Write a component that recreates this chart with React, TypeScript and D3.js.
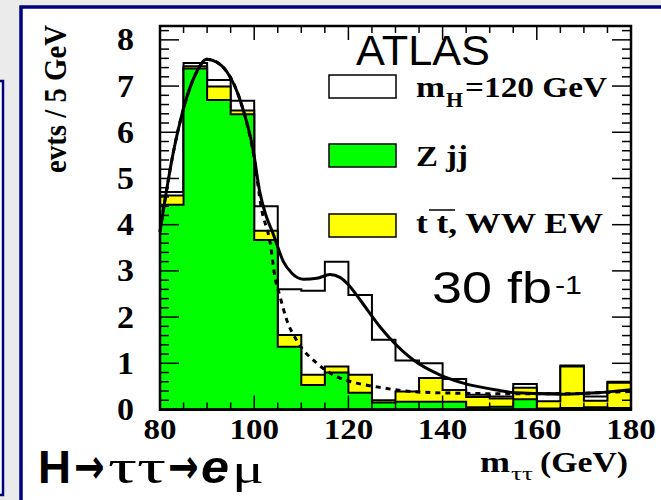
import React from 'react';
import * as d3 from 'd3';

// ==== data

const binLow = [80, 85, 90, 95, 100, 105, 110, 115, 120, 125, 130, 135, 140, 145, 150, 155, 160, 165, 170, 175];
const zjj = [4.43, 7.38, 6.70, 6.39, 3.67, 1.36, 0.53, 0.80, 0.36, 0.15, 0.17, 0.17, 0.17, 0.05, 0.06, 0.22, 0.02, 0.03, 0.05, 0.03];
const ttWW = [0.20, 0.05, 0.29, 0.08, 0.20, 0.25, 0.22, 0.13, 0.39, 0.05, 0.22, 0.51, 0.25, 0.22, 0.18, 0.25, 0.16, 0.90, 0.14, 0.55];
const higgs = [0.08, 0.07, 0.14, 0.21, 0.53, 0.99, 1.82, 2.27, 1.73, 1.31, 0.67, 0.32, 0.24, 0.05, 0.04, 0.08, 0.17, 0.02, 0.09, 0.02];

const fitMass = [80, 82.8, 84.9, 87.8, 89.9, 92, 94.2, 97, 99.8, 101.2, 102.5, 104, 106.2, 108, 110.5, 113.3, 116.1, 118.2, 120, 122.5, 126.7, 128.8, 133.8, 139.4, 144.4, 151.5, 155.7, 165.6, 172.7, 180];
const fitTotal = [3.85, 5.55, 6.48, 7.31, 7.58, 7.52, 7.31, 6.7, 5.6, 4.7, 4.2, 3.81, 3.2, 2.95, 2.82, 2.84, 2.92, 2.86, 2.7, 2.37, 1.79, 1.54, 1.07, 0.75, 0.57, 0.42, 0.36, 0.33, 0.36, 0.43];

const bkgMass = [80, 82.8, 84.9, 87.8, 89.9, 92, 94.2, 97, 99.8, 101.6, 103.4, 104.4, 105.5, 106.9, 109, 113.3, 117.5, 121.8, 126, 133.7, 144.3, 155, 165.6, 178.3, 180];
const bkgFit = [3.85, 5.55, 6.48, 7.31, 7.58, 7.52, 7.31, 6.7, 5.55, 4.32, 3.6, 2.87, 2.44, 1.94, 1.5, 1.0, 0.71, 0.57, 0.49, 0.385, 0.35, 0.34, 0.34, 0.385, 0.39];

const xTickLabels = [80, 100, 120, 140, 160, 180];
const yTickLabels = [0, 1, 2, 3, 4, 5, 6, 7, 8];

// ====

const NAVY = '#00007f';
const GREEN = '#00ff00';
const YELLOW = '#ffff00';
const SERIF = '"Liberation Serif", "DejaVu Serif", serif';
const SANS = '"Liberation Sans", Arial, sans-serif';
const ARROW_FONT = '"DejaVu Sans", sans-serif';

export default function App() {
    const left = 160, right = 631, top = 26, bottom = 409.5;
    const x = d3.scaleLinear().domain([80, 180]).range([left, right]);
    const y = d3.scaleLinear().domain([0, 8.3]).range([bottom, top]);

    const green = zjj;
    const yellowTop = zjj.map((v, i) => v + ttWW[i]);
    const total = yellowTop.map((v, i) => v + higgs[i]);

    // filled step outline of one stacked layer
    const step = (vals: number[]) => {
        const pts: [number, number][] = binLow.map((b, i) => [b, vals[i]]);
        pts.push([180, vals[vals.length - 1]]);
        return d3.area<[number, number]>()
            .curve(d3.curveStepAfter)
            .x(p => x(p[0]))
            .y0(y(0))
            .y1(p => y(p[1]))(pts) as string;
    };

    const fitPath = d3.line<number>()
        .curve(d3.curveMonotoneX)
        .x((d, i) => x(fitMass[i]))
        .y(d => y(d))(fitTotal) as string;
    const bkgPath = d3.line<number>()
        .curve(d3.curveMonotoneX)
        .x((d, i) => x(bkgMass[i]))
        .y(d => y(d))(bkgFit) as string;

    const xMinor = d3.range(0, 21).map(i => 80 + i * 5);
    const yMinor = d3.range(0, 42).map(i => i * 0.2);

    return (
        <svg width={661} height={500} style={{ position: 'absolute', left: 0, top: 0 }}>
            <rect x={0} y={0} width={661} height={500} fill="#ebebeb" />
            <rect x={-20} y={81} width={23} height={414} fill="white" stroke={NAVY} strokeWidth={2.5} />
            <rect x={21} y={7} width={700} height={600} fill="white" stroke={NAVY} strokeWidth={3.5} />

            {/* stacked histogram */}
            <path d={step(total)} fill="white" stroke="black" strokeWidth={2} />
            <path d={step(yellowTop)} fill={YELLOW} stroke="black" strokeWidth={2} />
            <path d={step(green)} fill={GREEN} stroke="black" strokeWidth={2} />

            {/* fits */}
            <path d={bkgPath} fill="none" stroke="black" strokeWidth={3} strokeDasharray="5,5" />
            <path d={fitPath} fill="none" stroke="black" strokeWidth={3} />

            {/* frame and ticks */}
            <rect x={left} y={top} width={right - left} height={bottom - top} fill="none" stroke="black" strokeWidth={2.5} />
            {xMinor.map(v => {
                const len = v % 20 === 0 ? 14 : 7;
                return (
                    <g key={'xt' + v}>
                        <line x1={x(v)} x2={x(v)} y1={bottom} y2={bottom - len} stroke="black" strokeWidth={1.5} />
                        <line x1={x(v)} x2={x(v)} y1={top} y2={top + len} stroke="black" strokeWidth={1.5} />
                    </g>
                );
            })}
            {yMinor.map((v, i) => {
                const len = i % 5 === 0 ? 19 : 9;
                return (
                    <g key={'yt' + i}>
                        <line x1={left} x2={left + len} y1={y(v)} y2={y(v)} stroke="black" strokeWidth={1.5} />
                        <line x1={right} x2={right - len} y1={y(v)} y2={y(v)} stroke="black" strokeWidth={1.5} />
                    </g>
                );
            })}

            {/* tick labels */}
            {xTickLabels.map(v => (
                <text key={'xl' + v} x={x(v)} y={439} textAnchor="middle" fontFamily={SERIF} fontWeight="bold"
                    fontSize={29} textLength={String(v).length * 16.5} lengthAdjust="spacingAndGlyphs">{v}</text>
            ))}
            {yTickLabels.map(v => (
                <text key={'yl' + v} x={134} y={y(v) + 10.5} textAnchor="end" fontFamily={SERIF} fontWeight="bold"
                    fontSize={31} textLength={17} lengthAdjust="spacingAndGlyphs">{v}</text>
            ))}

            {/* axis titles */}
            <text transform="translate(66,99) rotate(-90)" textAnchor="middle" fontFamily={SERIF} fontWeight="bold"
                fontSize={31} textLength={148} lengthAdjust="spacingAndGlyphs">evts / 5 GeV</text>
            <text fontFamily={SERIF} fontWeight="bold" fontSize={30}>
                <tspan x={480} y={472} textLength={30} lengthAdjust="spacingAndGlyphs">m</tspan>
                <tspan x={511} y={480} fontSize={19} fontWeight="normal" textLength={22} lengthAdjust="spacingAndGlyphs">ττ</tspan>
                <tspan x={540} y={472} textLength={88} lengthAdjust="spacingAndGlyphs">(GeV)</tspan>
            </text>

            {/* legend */}
            <rect x={329} y={75} width={67} height={23} fill="white" stroke="black" strokeWidth={1.5} />
            <rect x={329} y={144} width={67} height={23} fill={GREEN} stroke="black" strokeWidth={1.5} />
            <rect x={329} y={214} width={67} height={23} fill={YELLOW} stroke="black" strokeWidth={1.5} />
            <g fontFamily={SERIF} fontWeight="bold" fontSize={29}>
                <text>
                    <tspan x={416} y={97} textLength={29} lengthAdjust="spacingAndGlyphs">m</tspan>
                    <tspan x={446} y={107} fontSize={20} textLength={17} lengthAdjust="spacingAndGlyphs">H</tspan>
                    <tspan x={465} y={97} textLength={142} lengthAdjust="spacingAndGlyphs">=120 GeV</tspan>
                </text>
                <text x={416} y={166} textLength={52} lengthAdjust="spacingAndGlyphs">Z jj</text>
                <text x={416} y={233} textLength={187} lengthAdjust="spacingAndGlyphs">t t, WW EW</text>
                <line x1={429} x2={455} y1={210} y2={210} stroke="black" strokeWidth={1.5} />
            </g>

            <text x={356} y={65} fontFamily={SANS} fontSize={42} textLength={134} lengthAdjust="spacingAndGlyphs">ATLAS</text>
            <text fontFamily={SANS}>
                <tspan x={432} y={303} fontSize={44} textLength={120} lengthAdjust="spacingAndGlyphs">30 fb</tspan>
                <tspan x={555} y={294} fontSize={25} textLength={27} lengthAdjust="spacingAndGlyphs">-1</tspan>
            </text>

            {/* channel label */}
            <text y={483} fontSize={46}>
                <tspan x={38} fontFamily={SANS} fontWeight="bold" textLength={33} lengthAdjust="spacingAndGlyphs">H</tspan>
                <tspan x={108} fontFamily={SERIF} fontSize={48} textLength={58} lengthAdjust="spacingAndGlyphs">ττ</tspan>
                <tspan x={201} fontFamily={SANS} fontWeight="bold" fontStyle="italic" textLength={28} lengthAdjust="spacingAndGlyphs">e</tspan>
                <tspan x={232} fontFamily={SERIF} fontSize={42} textLength={32} lengthAdjust="spacingAndGlyphs">μ</tspan>
            </text>
            <text transform="translate(74,483) scale(0.76,1)" fontFamily={ARROW_FONT} fontWeight="bold" fontSize={48}>→</text>
            <text transform="translate(168,483) scale(0.76,1)" fontFamily={ARROW_FONT} fontWeight="bold" fontSize={48}>→</text>
        </svg>
    );
}
